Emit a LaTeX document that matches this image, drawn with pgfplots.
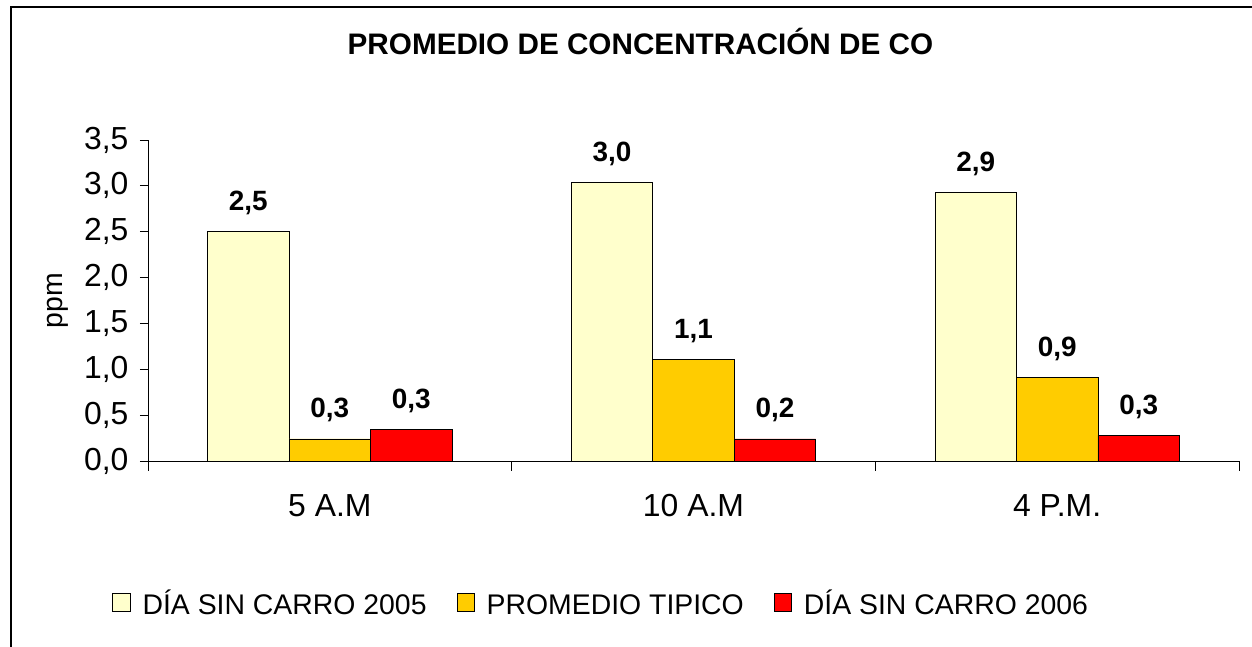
\documentclass[border=0pt]{standalone}
\usepackage{fontspec}
\setmainfont{Liberation Sans}
\usepackage{pgfplots}
\usepackage{pgfplotstable}
\pgfplotsset{compat=1.18}
\definecolor{cLight}{HTML}{FFFFCC}
\definecolor{cOrange}{HTML}{FFCC00}
\definecolor{cRed}{HTML}{FF0000}
\pgfplotstableread{
x y l
0 2.50 2,5
1 3.04 3,0
2 2.93 2,9
}\dataA
\pgfplotstableread{
x y l
0 0.24 0,3
1 1.11 1,1
2 0.91 0,9
}\dataB
\pgfplotstableread{
x y l
0 0.34 0,3
1 0.24 0,2
2 0.28 0,3
}\dataC
\begin{document}
\begin{tikzpicture}
\path[use as bounding box] (0,0) rectangle (1252bp,647bp);
\draw[line width=1.1bp] (11bp,0) -- (11bp,640bp) -- (1252bp,640bp);
\begin{axis}[
  at={(148bp,186bp)}, anchor=south west,
  width=1091bp, height=321bp, scale only axis,
  ybar=0pt, bar width=81.5bp,
  xmin=-0.5, xmax=2.5, ymin=0, ymax=3.5,
  axis x line=bottom, axis y line=left,
  axis line style={-, line width=0.8bp},
  xtick={0,1,2}, xticklabels={5 A.M,10 A.M,4 P.M.},
  major x tick style={draw=none},
  minor xtick={-0.5,0.5,1.5,2.5},
  minor tick length=10bp, major tick length=8bp,
  tick align=outside,
  tick style={black, line width=0.8bp},
  ytick={0,0.5,...,3.5},
  /pgf/number format/.cd, use comma, fixed, fixed zerofill, precision=1, assume math mode=true,
  /pgfplots/.cd,
  yticklabel style={font=\fontsize{32}{37}\selectfont, xshift=-8bp},
  xticklabel style={font=\fontsize{32}{37}\selectfont, yshift=-22bp},
  ylabel={ppm},
  ylabel style={at={(axis description cs:-0.0825,0.5)}, anchor=center, font=\fontsize{28.5}{33}\selectfont},
  title={\textbf{PROMEDIO DE CONCENTRACIÓN DE CO}},
  title style={at={(axis description cs:0.4514,1.2897)}, anchor=center, font=\fontsize{29.8}{35}\selectfont},
  point meta=explicit symbolic,
  nodes near coords,
  every node near coord/.append style={anchor=base, yshift=21bp, inner sep=0pt, font=\fontsize{28}{33}\selectfont\bfseries},
  legend columns=3,
  legend style={at={(0.4145,-0.4455)}, anchor=center, draw=none, fill=none,
    font=\fontsize{28.5}{33}\selectfont,
    nodes={inner sep=0pt, text height=20bp, text depth=0bp},
    /tikz/every odd column/.append style={column sep=12bp},
    /tikz/every even column/.append style={column sep=30bp}},
  legend image code/.code={\draw[#1, draw=black, line width=0.6bp] (0bp,-6.5bp) rectangle (17.5bp,11bp);},
]
\addplot[fill=cLight, draw=black, line width=0.7bp] table[x=x, y=y, meta=l] {\dataA};
\addplot[fill=cOrange, draw=black, line width=0.7bp] table[x=x, y=y, meta=l] {\dataB};
\addplot[fill=cRed, draw=black, line width=0.7bp] table[x=x, y=y, meta=l] {\dataC};
\legend{DÍA SIN CARRO 2005, PROMEDIO TIPICO, DÍA SIN CARRO 2006}
\end{axis}
\end{tikzpicture}
\end{document}
